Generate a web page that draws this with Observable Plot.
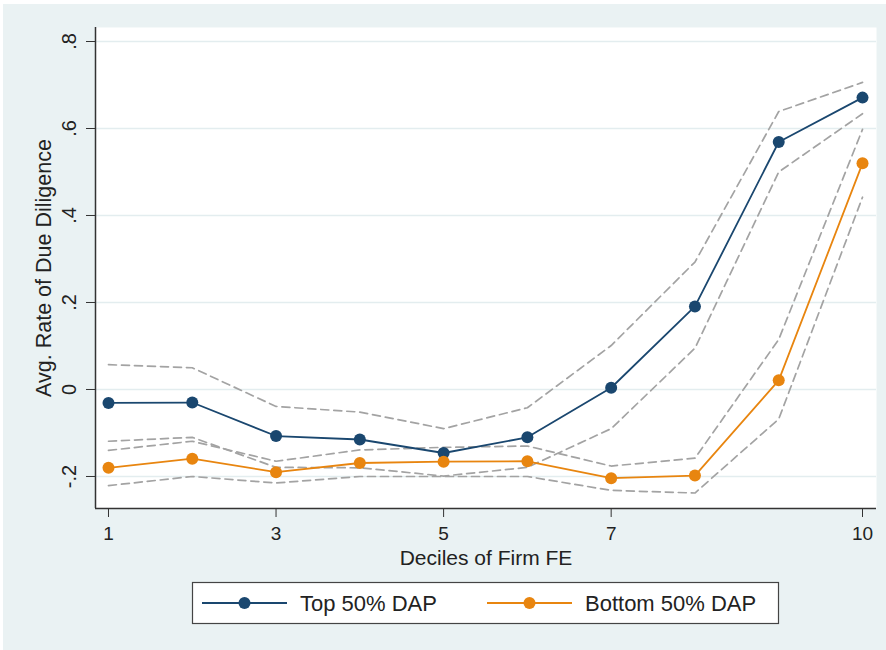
<!DOCTYPE html>
<html>
<head>
<meta charset="utf-8">
<script src="https://cdn.jsdelivr.net/npm/d3@7"></script>
<script src="https://cdn.jsdelivr.net/npm/@observablehq/plot@0.6"></script>
<style>
  html, body { margin: 0; padding: 0; background: #ffffff; }
  #page { position: relative; width: 886px; height: 650px; overflow: hidden; }
  #bg { position: absolute; left: 3px; top: 4px; width: 883px; height: 646px; background: #EAF2F3; }
  #chart { position: absolute; left: 0; top: 0; }
  #legend { position: absolute; left: 0; top: 0; }
</style>
</head>
<body>
<div id="page">
  <div id="bg"></div>
  <div id="chart"></div>
  <div id="legend"></div>
</div>
<script>
// ---- data ----
const deciles   = [1, 2, 3, 4, 5, 6, 7, 8, 9, 10];
const topMean   = [-0.031, -0.030, -0.107, -0.115, -0.146, -0.110, 0.004, 0.191, 0.569, 0.671];
const topUpper  = [0.057, 0.050, -0.039, -0.052, -0.090, -0.042, 0.101, 0.293, 0.639, 0.706];
const topLower  = [-0.119, -0.110, -0.179, -0.180, -0.199, -0.179, -0.090, 0.095, 0.500, 0.634];
const botMean   = [-0.180, -0.159, -0.190, -0.169, -0.166, -0.165, -0.204, -0.198, 0.021, 0.520];
const botUpper  = [-0.140, -0.119, -0.165, -0.139, -0.133, -0.130, -0.176, -0.158, 0.115, 0.598];
const botLower  = [-0.221, -0.200, -0.215, -0.200, -0.200, -0.200, -0.232, -0.238, -0.068, 0.442];
const seriesNames = ["Top 50% DAP", "Bottom 50% DAP"];
const xTicks = [1, 3, 5, 7, 10];
const yTicks = [-0.2, 0, 0.2, 0.4, 0.6, 0.8];
const yTickLabels = ["-.2", "0", ".2", ".4", ".6", ".8"];
const xTitle = "Deciles of Firm FE";
const yTitle = "Avg. Rate of Due Diligence";

const navy = "#1a476f";
const orange = "#e8850f";
const ciColor = "#a3a3a3";
const font = "'Liberation Sans', Arial, sans-serif";

const toRows = (vals) => deciles.map((d, i) => ({x: d, y: vals[i]}));
const xDomain = [0.845, 10.167];
const yDomain = [-0.2736, 0.8322];

const ciStyle = {x: "x", y: "y", stroke: ciColor, strokeWidth: 1.7, strokeDasharray: "8,5"};

const plot = Plot.plot({
  width: 886,
  height: 575,
  marginLeft: 95,
  marginRight: 10,
  marginTop: 27,
  marginBottom: 67,
  x: {domain: xDomain},
  y: {domain: yDomain},
  style: {fontFamily: font, fontSize: "19px", color: "#222", background: "transparent", overflow: "visible"},
  marks: [
    Plot.frame({fill: "white", stroke: null}),
    Plot.ruleY(yTicks, {stroke: "#E3EDEF", strokeWidth: 1.5}),
    Plot.line(toRows(topUpper), ciStyle),
    Plot.line(toRows(topLower), ciStyle),
    Plot.line(toRows(botUpper), ciStyle),
    Plot.line(toRows(botLower), ciStyle),
    Plot.line(toRows(topMean), {x: "x", y: "y", stroke: navy, strokeWidth: 1.8}),
    Plot.line(toRows(botMean), {x: "x", y: "y", stroke: orange, strokeWidth: 1.8}),
    Plot.dot(toRows(topMean), {x: "x", y: "y", r: 6, fill: navy, stroke: null}),
    Plot.dot(toRows(botMean), {x: "x", y: "y", r: 6, fill: orange, stroke: null}),
    Plot.ruleX([xDomain[0]], {stroke: "#333", strokeWidth: 1.5}),
    Plot.ruleY([yDomain[0]], {stroke: "#333", strokeWidth: 1.5}),
    Plot.axisX({ticks: xTicks, tickSize: 9, tickPadding: 9, label: null, fontSize: 19, stroke: "#333"}),
    Plot.axisY({ticks: yTicks, tickSize: 9, tickFormat: () => "", label: null, stroke: "#333"}),
    Plot.text(yTicks, {y: d => d, text: (d, i) => yTickLabels[i], frameAnchor: "left", textAnchor: "middle", lineAnchor: "middle", dx: -26, rotate: -90, fontSize: 20, fill: "#222"}),
    Plot.text([xTitle], {text: d => d, frameAnchor: "bottom", textAnchor: "middle", lineAnchor: "middle", dy: 50, fontSize: 21, fill: "#222"}),
    Plot.text([yTitle], {text: d => d, frameAnchor: "left", textAnchor: "middle", lineAnchor: "middle", dx: -51, rotate: -90, fontSize: 21.5, fill: "#222"})
  ]
});
document.getElementById("chart").appendChild(plot);

// ---- legend (below the plot) ----
const leg = d3.select("#legend").append("svg")
  .attr("width", 886).attr("height", 650)
  .style("font-family", font);
leg.append("rect").attr("x", 192.5).attr("y", 582.5).attr("width", 586).attr("height", 41)
  .attr("fill", "white").attr("stroke", "#444").attr("stroke-width", 1.2);
const items = [
  {name: seriesNames[0], color: navy, x0: 202, x1: 287, tx: 300},
  {name: seriesNames[1], color: orange, x0: 487, x1: 572, tx: 585}
];
items.forEach(it => {
  leg.append("line").attr("x1", it.x0).attr("x2", it.x1).attr("y1", 603).attr("y2", 603)
    .attr("stroke", it.color).attr("stroke-width", 1.8);
  leg.append("circle").attr("cx", (it.x0 + it.x1) / 2).attr("cy", 603).attr("r", 6).attr("fill", it.color);
  leg.append("text").attr("x", it.tx).attr("y", 603).attr("dy", "0.35em")
    .attr("font-size", 22).attr("fill", "#222").text(it.name);
});
</script>
</body>
</html>
